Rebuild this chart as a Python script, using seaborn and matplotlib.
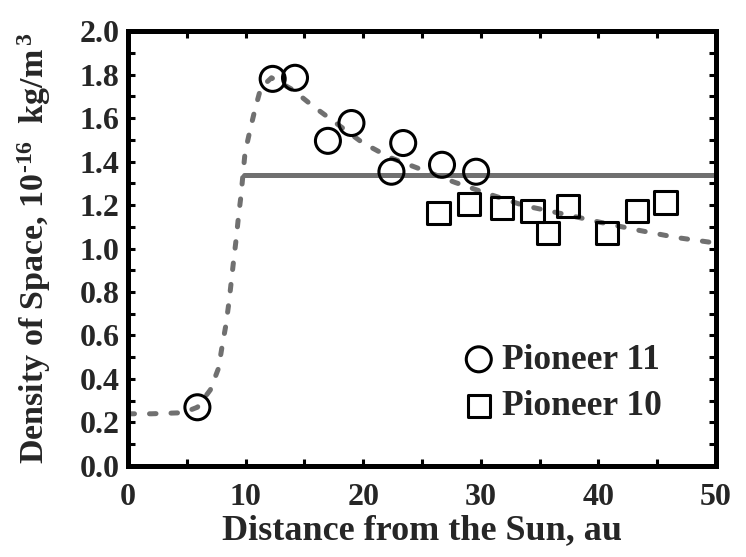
import numpy as np
import pandas as pd
import matplotlib
matplotlib.use("Agg")
import matplotlib.pyplot as plt
import seaborn as sns

# Pioneer 11 (circles)
p11_dist = [5.9, 12.3, 14.2, 17.0, 19.0, 22.4, 23.4, 26.7, 29.6]
p11_dens = [0.27, 1.78, 1.785, 1.495, 1.577, 1.353, 1.485, 1.385, 1.353]

# Pioneer 10 (squares)
p10_dist = [26.4, 29.0, 31.8, 34.4, 35.7, 37.4, 40.7, 43.3, 45.7]
p10_dens = [1.165, 1.206, 1.185, 1.174, 1.072, 1.194, 1.072, 1.174, 1.212]

# model curve (dashed)
model_dist = [0.0, 2.0, 4.7, 5.9, 7.0, 7.7, 8.0, 8.33, 8.6, 8.97, 9.2, 9.4, 9.6,
              9.95, 10.4, 10.8, 11.3, 12.2, 14.0, 15.7, 17.6, 19.9, 22.2, 25.2,
              27.8, 30.7, 33.7, 36.9, 40.2, 43.5, 46.7, 50.0]
model_dens = [0.24, 0.24, 0.245, 0.27, 0.35, 0.45, 0.55, 0.65, 0.76, 0.94, 1.045,
              1.15, 1.24, 1.44, 1.55, 1.64, 1.74, 1.785, 1.73, 1.656, 1.58, 1.488,
              1.42, 1.358, 1.304, 1.25, 1.197, 1.16, 1.12, 1.083, 1.05, 1.025]

# constant density (solid)
const_dist = [9.85, 50.0]
const_dens = [1.338, 1.338]

sns.set_style("ticks")
plt.rcParams['font.family'] = ['Liberation Serif', 'DejaVu Serif']
plt.rcParams['font.weight'] = 'bold'
plt.rcParams['mathtext.fontset'] = 'custom'
plt.rcParams['mathtext.rm'] = 'Liberation Serif:bold'
plt.rcParams['mathtext.default'] = 'rm'

fig = plt.figure(figsize=(7.46, 5.57), dpi=100)
ax = fig.add_axes([0.1716, 0.1634, 0.7882, 0.7809])

gray = '#707070'
model = pd.DataFrame({'x': model_dist, 'y': model_dens})
const = pd.DataFrame({'x': const_dist, 'y': const_dens})
sns.lineplot(data=model, x='x', y='y', ax=ax, color=gray, lw=3.6,
             dashes=False, sort=False, estimator=None)
ax.lines[-1].set_linestyle((0, (1.3, 3.0)))
ax.lines[-1].set_dash_capstyle('round')
sns.lineplot(data=const, x='x', y='y', ax=ax, color=gray, lw=3.6,
             estimator=None)
ax.lines[-1].set_solid_capstyle('round')

p11 = pd.DataFrame({'x': p11_dist, 'y': p11_dens})
p10 = pd.DataFrame({'x': p10_dist, 'y': p10_dens})
sns.scatterplot(data=p11, x='x', y='y', ax=ax, marker='o', s=18**2,
                facecolor='none', edgecolor='black', linewidth=2.2,
                label='Pioneer 11', zorder=5)
sns.scatterplot(data=p10, x='x', y='y', ax=ax, marker='s', s=16**2,
                facecolor='none', edgecolor='black', linewidth=2.2,
                label='Pioneer 10', zorder=5)

ax.set_xlim(0, 50)
ax.set_ylim(0, 2.0)
ax.set_xticks(np.arange(0, 51, 10))
ax.set_xticks(np.arange(0, 51, 5), minor=True)
ax.set_yticks(np.arange(0, 2.01, 0.2))
ax.set_yticks(np.arange(0, 2.01, 0.1), minor=True)
ax.set_yticklabels([f'{v:.1f}' for v in np.arange(0, 2.01, 0.2)])
for which in ['major', 'minor']:
    ax.tick_params(which=which, direction='in', length=5, width=2.2,
                   top=True, right=True, color='black')
ax.tick_params(which='major', labelsize=23)
ax.tick_params(axis='x', which='major', pad=12)
ax.tick_params(axis='y', which='major', pad=6)
for sp in ax.spines.values():
    sp.set_linewidth(3.6)
    sp.set_color('black')

ax.set_xlabel('Distance from the Sun, au', fontsize=26, fontweight='bold', labelpad=2)
ax.set_ylabel('Density of Space, 10$^{\u2010 16}$  kg/m$^{\\,3}$', fontsize=24.5,
              fontweight='bold', labelpad=19)

leg = ax.legend(loc='center', bbox_to_anchor=(0.737, 0.19), frameon=False,
                fontsize=25.5, handletextpad=0.15, labelspacing=0.38,
                handlelength=1.0, borderpad=0)
for t in leg.get_texts():
    t.set_fontweight('bold')

fig.savefig('out.png', dpi=100)
